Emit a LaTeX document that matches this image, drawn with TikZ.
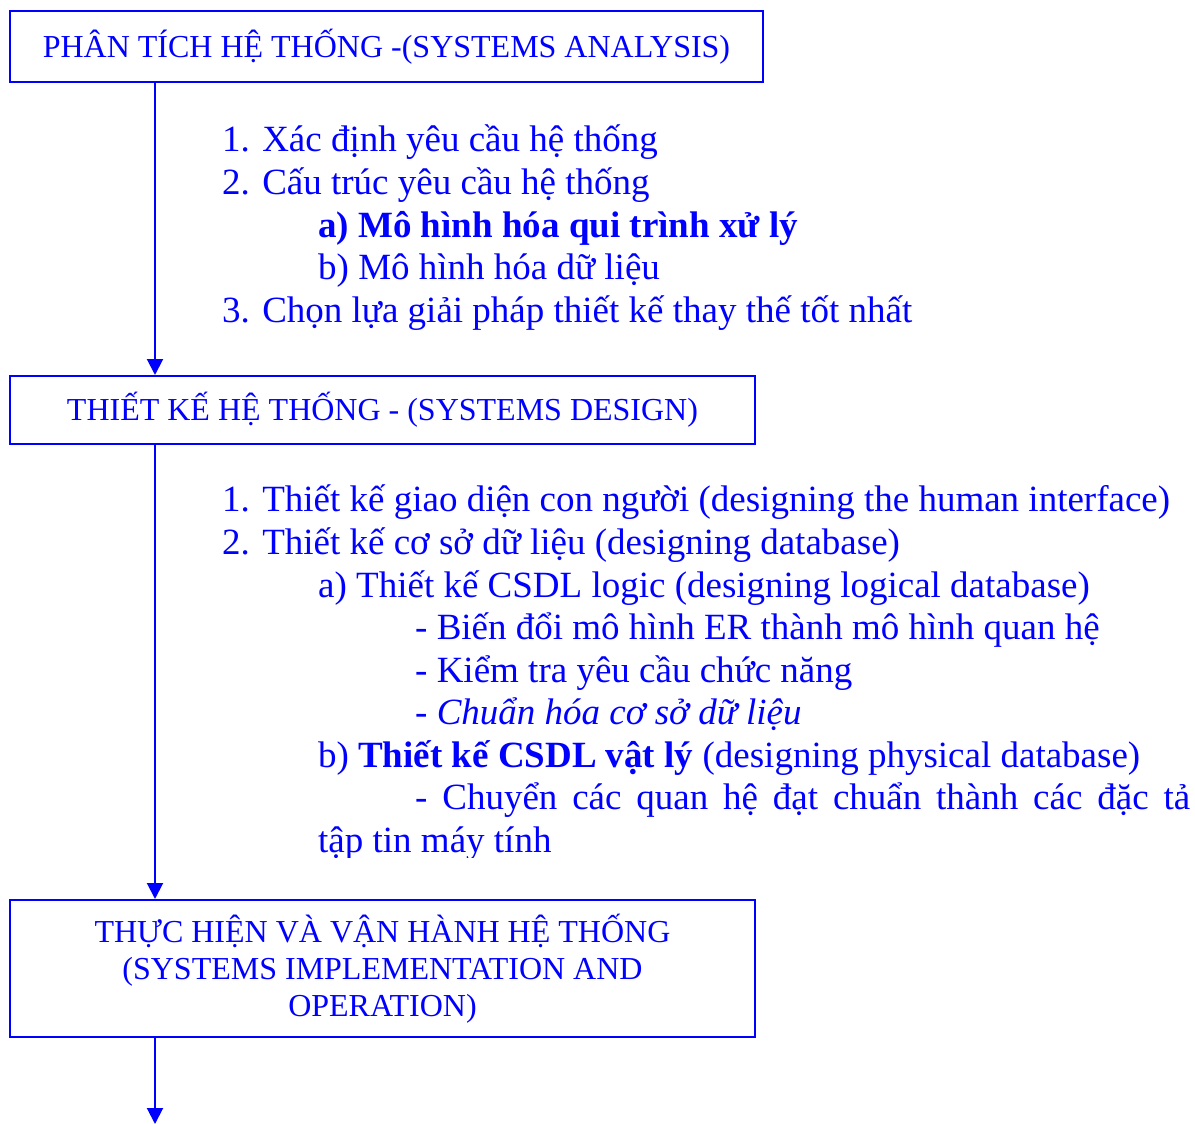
\documentclass[tikz,border=0pt]{standalone}
\usepackage{fontspec}
\setmainfont{Liberation Serif}
\usetikzlibrary{arrows.meta}
\definecolor{vblue}{RGB}{0,0,255}
\begin{document}
\begin{tikzpicture}[x=1pt,y=-1pt,
  every node/.style={text=vblue, inner sep=0pt},
  stagebox/.style={draw=vblue, line width=2pt, font=\fontsize{32}{37}\selectfont, align=center},
  item/.style={anchor=base west, font=\fontsize{37}{43}\selectfont},
  flow/.style={draw=vblue, line width=2pt, -{Triangle[width=16pt,length=16pt]}}]
\useasboundingbox (0,0) rectangle (1195,1124);
\coordinate (ax) at (155,0);
\coordinate (end) at (155,1124);
\node[stagebox, minimum width=753pt, minimum height=71pt] (s1) at (386.5,47) {PHÂN TÍCH HỆ THỐNG -(SYSTEMS ANALYSIS)};
\node[stagebox, minimum width=745pt, minimum height=68pt] (s2) at (382.5,410) {THIẾT KẾ HỆ THỐNG - (SYSTEMS DESIGN)};
\node[stagebox, minimum width=745pt, minimum height=137pt] (s3) at (382.5,968.5) {THỰC HIỆN VÀ VẬN HÀNH HỆ THỐNG\\(SYSTEMS IMPLEMENTATION AND\\OPERATION)};

\node[item] (a1) at (222,151) {1. Xác định yêu cầu hệ thống};
\node[item] (a2) at (222,194) {2. Cấu trúc yêu cầu hệ thống};
\node[item] (a2a) at (318,237) {\bfseries a) Mô hình hóa qui trình xử lý};
\node[item] (a2b) at (318,279) {b) Mô hình hóa dữ liệu};
\node[item] (a3) at (222,322) {3. Chọn lựa giải pháp thiết kế thay thế tốt nhất};

\node[item] (b1) at (222,511) {1. Thiết kế giao diện con người (designing the human interface)};
\node[item] (b2) at (222,554) {2. Thiết kế cơ sở dữ liệu (designing database)};
\node[item] (b2a) at (318,597) {a) Thiết kế CSDL logic (designing logical database)};
\node[item] (b2a1) at (415,639) {- Biến đổi mô hình ER thành mô hình quan hệ};
\node[item] (b2a2) at (415,682) {- Kiểm tra yêu cầu chức năng};
\node[item] (b2a3) at (415,724) {- \textit{Chuẩn hóa cơ sở dữ liệu}};
\node[item] (b2b) at (318,767) {b) \textbf{Thiết kế CSDL vật lý} (designing physical database)};
\node[item] (b2b1) at (415,809) {\makebox[775pt][s]{- Chuyển các quan hệ đạt chuẩn thành các đặc tả}};
\begin{scope}
\clip (0,0) rectangle (1195,857);
\node[item] (b2b2) at (318,852) {tập tin máy tính};
\end{scope}

\draw[flow] (s1.south -| ax) -- (s2.north -| ax);
\draw[flow] (s2.south -| ax) -- (s3.north -| ax);
\draw[flow] (s3.south -| ax) -- (end);
\end{tikzpicture}
\end{document}
